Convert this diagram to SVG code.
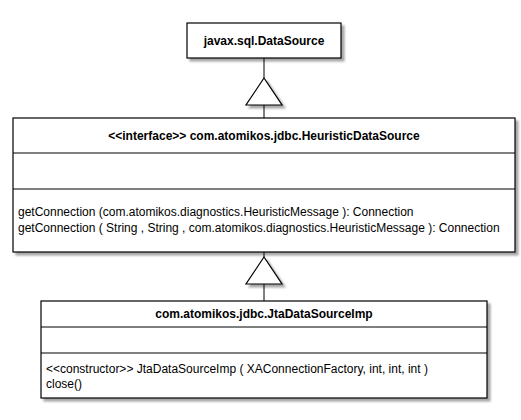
<svg xmlns="http://www.w3.org/2000/svg" width="521" height="420" viewBox="0 0 521 420">
<defs>
<filter id="sh" x="-10%" y="-10%" width="130%" height="130%">
<feGaussianBlur in="SourceAlpha" stdDeviation="1"/>
<feOffset dx="3" dy="3" result="b"/>
<feComponentTransfer><feFuncA type="linear" slope="0.35"/></feComponentTransfer>
<feMerge><feMergeNode/><feMergeNode in="SourceGraphic"/></feMerge>
</filter>
</defs>
<style>
.box{fill:#fff;stroke:#000;stroke-width:1.2}
.div{stroke:#000;stroke-width:1;fill:none}
.t{font-family:"Liberation Sans",Arial,sans-serif;font-size:12px;fill:#000}
.b{font-weight:bold;text-anchor:middle}
.ln{stroke:#000;stroke-width:1;fill:none}
.tri{fill:#fff;stroke:#000;stroke-width:1.2}
</style>
<rect width="521" height="420" fill="#fff"/>
<g id="connectors">
<line class="ln" x1="264" y1="58" x2="264" y2="78"/>
<line class="ln" x1="264" y1="105" x2="264" y2="118"/>
<polygon class="tri" points="264,78 282,105 246,105" filter="url(#sh)"/>
<line class="ln" x1="264" y1="252" x2="264" y2="257"/>
<line class="ln" x1="264" y1="284" x2="264" y2="301"/>
<polygon class="tri" points="264,257 282,284 246,284" filter="url(#sh)"/>
</g>
<g id="DataSource">
<rect class="box" x="187" y="23" width="154" height="35" filter="url(#sh)"/>
<text class="t b" x="264" y="45">javax.sql.DataSource</text>
</g>
<g id="HeuristicDataSource">
<rect class="box" x="13" y="118" width="502" height="134" filter="url(#sh)"/>
<line class="div" x1="13" y1="153" x2="515" y2="153"/>
<line class="div" x1="13" y1="189" x2="515" y2="189"/>
<text class="t b" x="264" y="140">&lt;&lt;interface&gt;&gt; com.atomikos.jdbc.HeuristicDataSource</text>
<text class="t" x="18" y="216">getConnection (com.atomikos.diagnostics.HeuristicMessage ): Connection</text>
<text class="t" x="18" y="232">getConnection ( String , String , com.atomikos.diagnostics.HeuristicMessage ): Connection</text>
</g>
<g id="JtaDataSourceImp">
<rect class="box" x="41" y="301" width="446" height="97" filter="url(#sh)"/>
<line class="div" x1="41" y1="327" x2="487" y2="327"/>
<line class="div" x1="41" y1="353" x2="487" y2="353"/>
<text class="t b" x="264" y="318">com.atomikos.jdbc.JtaDataSourceImp</text>
<text class="t" x="46" y="373">&lt;&lt;constructor&gt;&gt; JtaDataSourceImp ( XAConnectionFactory, int, int, int )</text>
<text class="t" x="46" y="388">close()</text>
</g>
</svg>
